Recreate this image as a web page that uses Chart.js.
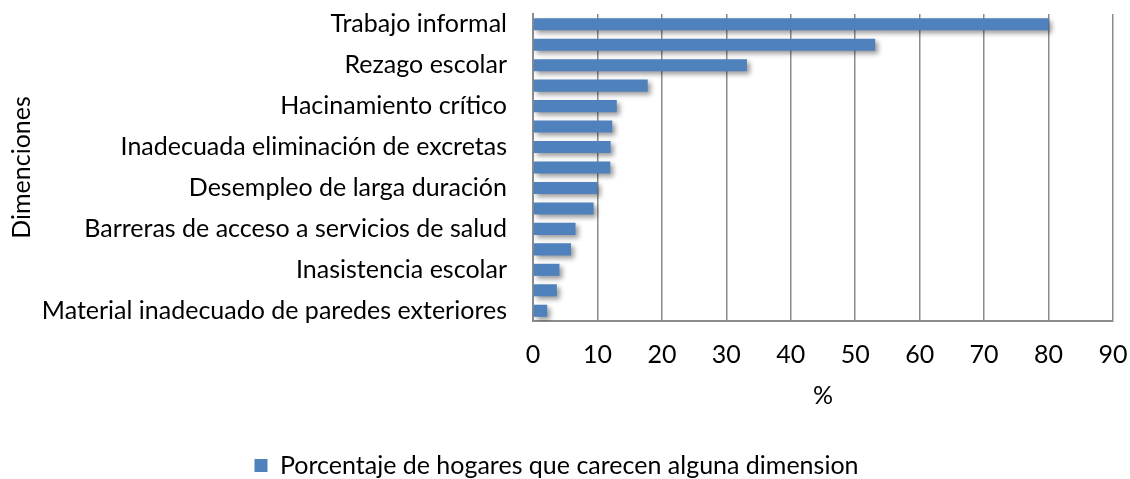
<!DOCTYPE html>
<html>
<head>
<meta charset="utf-8">
<script src="https://cdn.jsdelivr.net/npm/chart.js@4"></script>
<style>
  html, body { margin: 0; padding: 0; background: #ffffff; }
  #wrap { width: 1130px; height: 479px; position: relative; }
</style>
</head>
<body>
<div id="wrap"><canvas id="c" width="1130" height="479"></canvas></div>
<script>
// ---- data ----
const categories = [
  "Trabajo informal",
  "Bajo logro educativo",
  "Rezago escolar",
  "Sin aseguramiento en salud",
  "Hacinamiento crítico",
  "Analfabetismo",
  "Inadecuada eliminación de excretas",
  "Sin acceso a fuente de agua mejorada",
  "Desempleo de larga duración",
  "Barreras de acceso a servicios para cuidado de la primera infancia",
  "Barreras de acceso a servicios de salud",
  "Material inadecuado de pisos",
  "Inasistencia escolar",
  "Trabajo infantil",
  "Material inadecuado de paredes exteriores"
];
const values = [80.0, 53.1, 33.2, 17.8, 13.0, 12.3, 12.05, 12.0, 10.0, 9.4, 6.6, 5.9, 4.1, 3.7, 2.2];
const xTicks = [0, 10, 20, 30, 40, 50, 60, 70, 80, 90];
const seriesName = "Porcentaje de hogares que carecen alguna dimension";
const xTitle = "%";
const yTitle = "Dimenciones";

const FONT = "Lato, 'Open Sans', sans-serif";
const FS = 25;

const shadowPlugin = {
  id: 'barShadow',
  beforeDatasetsDraw(chart) {
    const ctx = chart.ctx;
    ctx.save();
    ctx.shadowColor = 'rgba(0,0,0,0.40)';
    ctx.shadowBlur = 5;
    ctx.shadowOffsetX = 3;
    ctx.shadowOffsetY = 3;
  },
  afterDatasetsDraw(chart) {
    chart.ctx.restore();
  }
};

new Chart(document.getElementById('c'), {
  type: 'bar',
  data: {
    labels: categories,
    datasets: [{
      label: seriesName,
      data: values,
      backgroundColor: '#4F81BD',
      borderWidth: 0,
      barPercentage: 0.59,
      categoryPercentage: 1.0
    }]
  },
  options: {
    indexAxis: 'y',
    responsive: false,
    animation: false,
    devicePixelRatio: 1,
    layout: { padding: { top: 14, right: 17, bottom: -9, left: 0 } },
    plugins: {
      legend: {
        position: 'bottom',
        labels: {
          font: { family: FONT, size: FS },
          color: '#000',
          boxWidth: 13,
          boxHeight: 13,
          padding: 1
        }
      },
      tooltip: { enabled: false }
    },
    scales: {
      x: {
        min: 0, max: 90,
        afterBuildTicks(scale) { scale.ticks = xTicks.map(v => ({ value: v })); },
        afterFit(scale) {
          scale.height = 131;
          scale.paddingLeft = 0; scale.paddingRight = 0;
        },
        grid: { color: '#8c8c8c', lineWidth: 1.5, drawTicks: false },
        border: { color: '#8c8c8c', width: 2 },
        ticks: { font: { family: FONT, size: FS }, color: '#000', padding: 19 },
        title: {
          display: true, text: xTitle,
          font: { family: FONT, size: FS }, color: '#000',
          padding: { top: 0, bottom: 41 }
        }
      },
      y: {
        afterFit(scale) {
          scale.width = 533;
          scale.paddingTop = 0; scale.paddingBottom = 0;
        },
        grid: { display: false, drawTicks: false },
        border: { color: '#8c8c8c', width: 2 },
        ticks: {
          autoSkip: false,
          font: { family: FONT, size: FS }, color: '#000', padding: 26,
          callback(value, index) { return index % 2 === 0 ? categories[index] : ''; }
        },
        title: {
          display: true, text: yTitle,
          font: { family: FONT, size: FS }, color: '#000',
          padding: { top: 7, bottom: 0 }
        }
      }
    }
  },
  plugins: [shadowPlugin]
});
</script>
</body>
</html>
